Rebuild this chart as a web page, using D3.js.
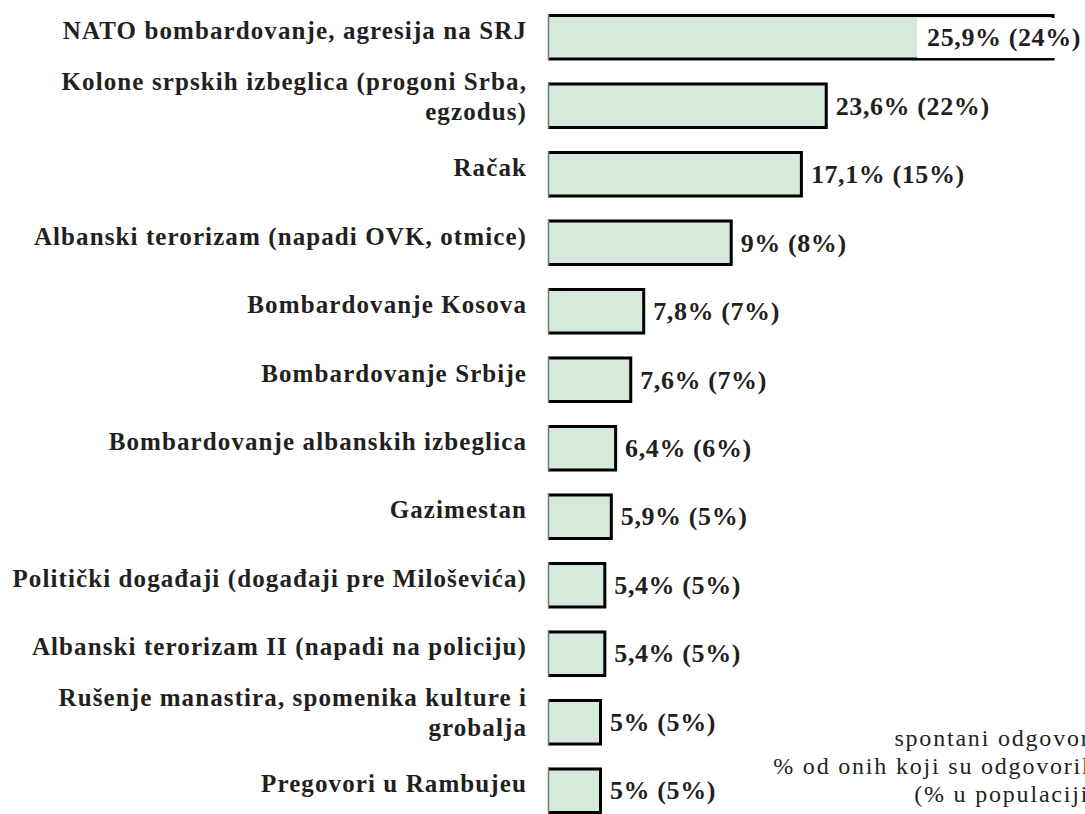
<!DOCTYPE html>
<html>
<head>
    <meta charset="utf-8">
    <title>Spontani odgovori</title>
    <script src="https://d3js.org/d3.v7.min.js"></script>
    <style>
        body { margin: 0; background: #fff; }
        .cat { font: bold 25px "Liberation Serif", serif; letter-spacing: 1.1px; fill: #231f20; }
        .val { font: bold 26px "Liberation Serif", serif; letter-spacing: 0.6px; fill: #231f20; }
        .note { font: 24px "Liberation Serif", serif; letter-spacing: 1.8px; fill: #231f20; }
    </style>
</head>
<body>
    <div id="chart"></div>

    <script>
        // categories, top to bottom ("\n" = line break in the label)
        const categories = [
            "NATO bombardovanje, agresija na SRJ",
            "Kolone srpskih izbeglica (progoni Srba,\negzodus)",
            "Račak",
            "Albanski terorizam (napadi OVK, otmice)",
            "Bombardovanje Kosova",
            "Bombardovanje Srbije",
            "Bombardovanje albanskih izbeglica",
            "Gazimestan",
            "Politički događaji (događaji pre Miloševića)",
            "Albanski terorizam II (napadi na policiju)",
            "Rušenje manastira, spomenika kulture i\ngrobalja",
            "Pregovori u Rambujeu"
        ];
        // % of those who answered / % of population (value labels)
        const pctAnswered = [25.9, 23.6, 17.1, 9, 7.8, 7.6, 6.4, 5.9, 5.4, 5.4, 5, 5];
        const pctPopulation = [24, 22, 15, 8, 7, 7, 6, 5, 5, 5, 5, 5];
        // bar lengths as drawn in the original (in %), they don't follow the labels exactly
        const barPct = [46.9, 25.9, 23.6, 17.1, 9, 7.8, 6.4, 6, 5.4, 5.4, 5, 5];
        const noteLines = ["spontani odgovori", "% od onih koji su odgovorili", "(% u populaciji)"];

        const width = 1085, height = 814;
        const svg = d3.select("#chart").append("svg")
            .attr("width", width)
            .attr("height", height);

        const x = d3.scaleLinear().domain([0, 50]).range([548, 1088]);
        const y = d3.scaleBand().domain(d3.range(categories.length))
            .range([14, 813.5]).paddingInner(0.328).paddingOuter(0);

        const fmt = v => String(v).replace(".", ",") + "%";

        const rows = svg.selectAll(".row")
            .data(categories.map((c, i) => ({c, i})))
            .join("g")
            .attr("class", "row");

        // bars: light green fill, heavy black top/right/bottom, thin grey left edge
        rows.append("rect")
            .attr("x", x(0))
            .attr("y", d => y(d.i))
            .attr("width", d => x(barPct[d.i]) - x(0))
            .attr("height", y.bandwidth())
            .attr("fill", "#d6eadb");

        rows.append("path")
            .attr("fill", "none")
            .attr("stroke", "#000")
            .attr("stroke-width", 3)
            .attr("d", d => {
                const x0 = x(0), x1 = x(barPct[d.i]) - 1.5, t = y(d.i) + 1.5, b = y(d.i) + y.bandwidth() - 1;
                return `M${x0},${t}H${x1}V${b}H${x0}`;
            });
        rows.append("line")
            .attr("x1", x(0) + 0.5).attr("x2", x(0) + 0.5)
            .attr("y1", d => y(d.i))
            .attr("y2", d => y(d.i) + y.bandwidth())
            .attr("stroke", "#777")
            .attr("stroke-width", 1.5);

        // category labels, right aligned
        rows.append("text")
            .attr("class", "cat")
            .attr("text-anchor", "end")
            .attr("x", 527)
            .attr("y", d => y(d.i) + y.bandwidth() / 2)
            .each(function (d) {
                const lines = d.c.split("\n");
                const off = lines.length > 1 ? -16 : 2;
                d3.select(this).selectAll("tspan")
                    .data(lines)
                    .join("tspan")
                    .attr("x", 527)
                    .attr("dy", (l, k) => k === 0 ? off : 30)
                    .text(l => l);
            });

        // value labels; if one runs off the page it goes inside the bar on a white box
        rows.each(function (d) {
            const g = d3.select(this);
            const cy = y(d.i) + y.bandwidth() / 2 + 9;
            const t = g.append("text")
                .attr("class", "val")
                .attr("x", x(barPct[d.i]) + 8)
                .attr("y", cy)
                .text(`${fmt(pctAnswered[d.i])} (${fmt(pctPopulation[d.i])})`);
            const bb = t.node().getBBox();
            if (bb.x + bb.width > width - 3) {
                t.attr("text-anchor", "end").attr("x", width - 4);
                const b2 = t.node().getBBox();
                g.insert("rect", "text.val")
                    .attr("x", b2.x - 10)
                    .attr("y", y(d.i) + 4)
                    .attr("width", width - b2.x + 10)
                    .attr("height", y.bandwidth() - 6)
                    .attr("fill", "#fff");
            }
        });

        // note in the lower right corner (runs past the right edge, as in the original)
        svg.append("text")
            .attr("class", "note")
            .attr("text-anchor", "end")
            .selectAll("tspan")
            .data(noteLines)
            .join("tspan")
            .attr("x", 1099)
            .attr("y", (d, i) => 746 + i * 28)
            .text(d => d);
    </script>
</body>
</html>
